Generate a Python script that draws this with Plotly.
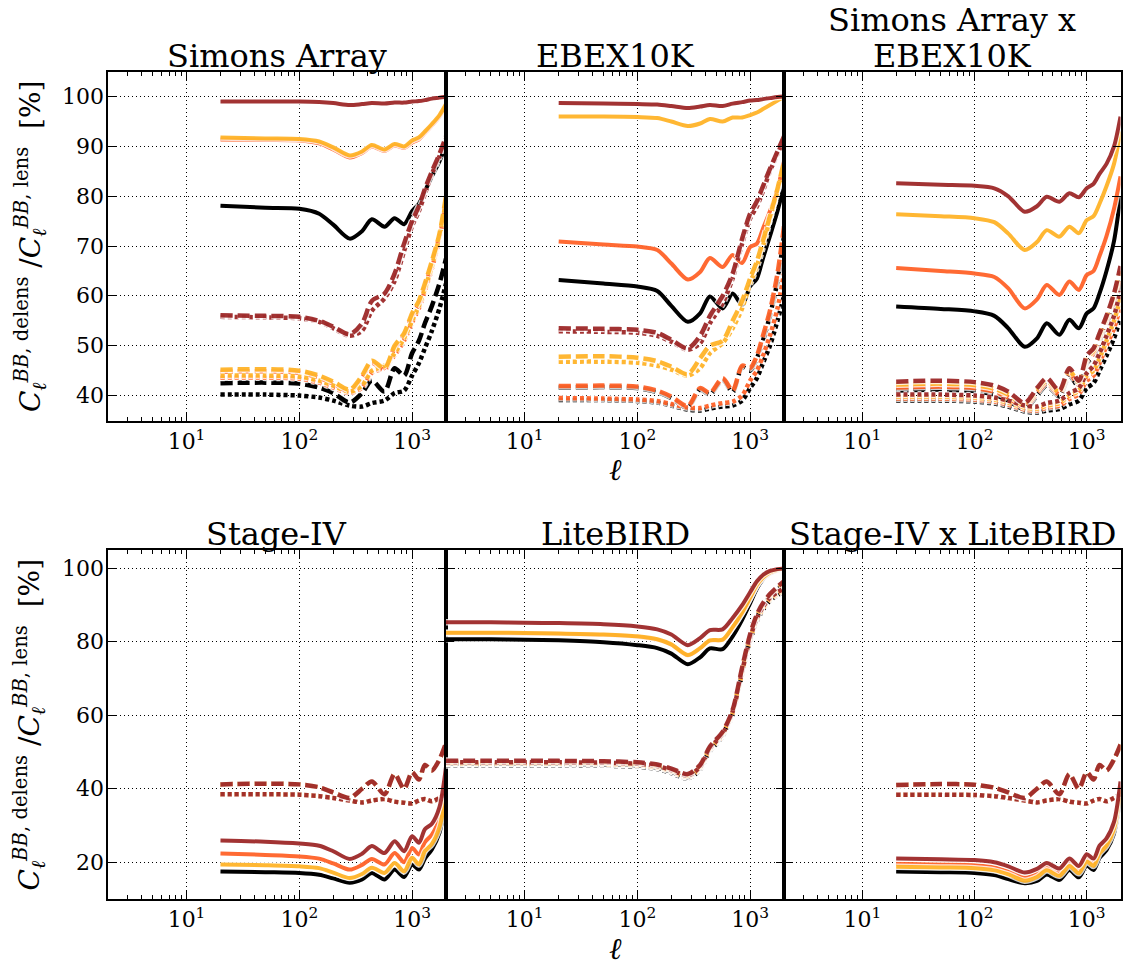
import math
import plotly.graph_objects as go

# ---------------- data ----------------
ELL = [20, 50, 100, 150, 200, 280, 360, 440, 570, 700, 850, 1000, 1150, 1300, 1500, 1750, 2000]
ELL_LB = [2, 5, 10, 20, 50, 100, 150, 200, 280, 360, 440, 570, 700, 850, 1000, 1150, 1300, 1500, 1750, 2000]

X_TICKS = [10, 100, 1000]
X_TICKTEXT = ["10<sup>1</sup>", "10<sup>2</sup>", "10<sup>3</sup>"]
Y_TICKS_TOP = [40, 50, 60, 70, 80, 90, 100]
Y_TICKS_BOT = [20, 40, 60, 80, 100]
TITLES = [["Simons Array"], ["EBEX10K"], ["Simons Array x", "EBEX10K"],
          ["Stage-IV"], ["LiteBIRD"], ["Stage-IV x LiteBIRD"]]

# Simons Array
SA_brown_solid = [99.0, 99.0, 99.0, 98.9, 98.7, 98.3, 98.5, 98.7, 98.6, 98.8, 98.8, 99.0, 99.1, 99.3, 99.6, 99.8, 100.0]
SA_orange_solid = [91.8, 91.6, 91.5, 91.0, 89.8, 88.2, 89.0, 90.3, 89.4, 90.5, 90.0, 91.2, 91.8, 93.0, 94.5, 96.3, 98.5]
SA_orangered_solid = [91.4, 91.3, 91.2, 90.6, 89.4, 87.8, 88.7, 90.0, 89.1, 90.2, 89.7, 90.8, 91.4, 92.7, 94.2, 96.0, 98.2]
SA_black_solid = [78.1, 77.7, 77.5, 76.5, 74.3, 71.5, 73.0, 75.4, 73.9, 75.6, 74.4, 77.0, 78.5, 81.0, 84.0, 87.0, 90.5]
SA_brown_dashed = [56.1, 56.0, 55.8, 55.0, 53.8, 52.3, 54.5, 59.0, 60.5, 64.5, 70.5, 75.0, 78.0, 81.5, 85.0, 88.5, 92.0]
SA_brown_dotted = [55.8, 55.7, 55.5, 54.8, 53.5, 52.0, 53.0, 57.0, 59.5, 63.0, 69.0, 74.0, 77.0, 80.5, 84.5, 88.0, 91.5]
SA_orange_dashed = [45.2, 45.3, 45.0, 44.0, 42.8, 41.2, 44.0, 47.0, 45.5, 50.0, 52.5, 56.5, 59.0, 62.5, 67.0, 72.5, 80.0]
SA_orange_dotted = [44.0, 44.0, 43.8, 43.0, 42.0, 40.8, 42.0, 45.0, 46.0, 48.5, 51.5, 55.0, 58.0, 61.5, 66.0, 72.0, 79.0]
SA_orangered_dashed = [44.8, 44.9, 44.6, 43.6, 42.4, 40.9, 43.6, 46.6, 45.1, 49.6, 52.1, 56.0, 58.5, 62.0, 66.5, 72.0, 79.5]
SA_orangered_dotted = [43.6, 43.6, 43.4, 42.6, 41.6, 40.5, 41.6, 44.6, 45.6, 48.1, 51.0, 54.6, 57.5, 61.0, 65.5, 71.5, 78.5]
SA_black_dashed = [42.5, 42.6, 42.4, 41.6, 40.5, 38.6, 40.5, 43.0, 40.8, 45.5, 44.0, 48.5, 51.0, 54.5, 58.0, 62.5, 67.5]
SA_black_dotted = [40.2, 40.2, 40.0, 39.6, 39.0, 38.0, 37.8, 38.5, 39.0, 40.5, 41.0, 44.0, 46.5, 49.5, 53.0, 57.5, 62.5]

# EBEX10K
EB_brown_solid = [98.7, 98.6, 98.5, 98.4, 98.1, 97.7, 98.0, 98.3, 98.1, 98.6, 98.9, 99.2, 99.3, 99.5, 99.7, 99.9, 100.0]
EB_orange_solid = [96.0, 96.0, 95.9, 95.7, 95.0, 94.1, 94.6, 95.5, 95.0, 95.8, 95.8, 96.3, 96.8, 97.5, 98.3, 99.2, 100.0]
EB_orangered_solid = [70.9, 70.3, 69.9, 69.2, 66.5, 63.3, 64.8, 67.6, 65.8, 68.2, 66.6, 69.8, 70.5, 73.5, 77.0, 81.5, 87.0]
EB_black_solid = [63.2, 62.5, 61.9, 61.0, 58.0, 54.8, 56.5, 59.9, 57.5, 60.5, 58.2, 61.9, 63.5, 67.5, 72.0, 77.0, 82.0]
EB_brown_dashed = [53.5, 53.4, 53.2, 52.6, 51.2, 49.5, 52.0, 56.0, 60.0, 64.5, 71.5, 76.5, 79.0, 82.0, 85.5, 89.0, 92.0]
EB_brown_dotted = [52.9, 52.8, 52.6, 52.0, 50.8, 49.2, 50.5, 54.5, 58.5, 63.5, 70.5, 75.5, 78.0, 81.0, 85.0, 88.5, 91.5]
EB_orange_dashed = [47.8, 47.9, 47.6, 46.9, 45.8, 44.3, 47.5, 50.0, 51.0, 55.0, 59.0, 63.5, 67.0, 71.0, 76.0, 81.5, 87.0]
EB_orange_dotted = [46.8, 46.8, 46.6, 46.0, 45.2, 44.0, 45.5, 48.5, 50.5, 53.5, 57.5, 62.5, 66.0, 70.0, 75.5, 81.0, 86.5]
EB_orangered_dashed = [41.9, 42.0, 41.8, 41.0, 39.8, 37.9, 41.5, 40.5, 43.5, 41.0, 46.0, 45.5, 48.0, 52.0, 57.0, 64.5, 74.0]
EB_orangered_dotted = [39.5, 39.4, 39.2, 38.9, 38.3, 37.6, 37.5, 38.0, 38.5, 38.8, 40.0, 43.0, 45.0, 48.0, 52.0, 57.5, 64.5]
EB_black_dashed = [41.6, 41.7, 41.5, 40.7, 39.5, 37.6, 41.2, 40.2, 43.2, 40.7, 45.7, 45.0, 47.5, 51.0, 56.0, 63.0, 72.0]
EB_black_dotted = [39.1, 39.1, 38.9, 38.6, 38.0, 37.2, 37.0, 37.4, 37.8, 38.0, 39.0, 41.5, 43.5, 46.5, 50.0, 55.0, 60.0]

# Simons Array x EBEX10K
SE_brown_solid = [82.6, 82.3, 82.1, 81.6, 80.0, 76.9, 78.0, 79.9, 78.9, 80.6, 79.8, 81.6, 82.5, 84.5, 86.5, 90.0, 96.0]
SE_orange_solid = [76.4, 76.0, 75.6, 74.8, 72.5, 69.2, 70.8, 73.2, 71.9, 73.9, 72.6, 75.2, 76.0, 78.5, 82.0, 86.5, 93.0]
SE_orangered_solid = [65.6, 65.0, 64.5, 63.8, 61.5, 57.5, 59.3, 62.2, 60.2, 62.9, 61.2, 64.2, 65.0, 68.0, 72.0, 77.5, 84.0]
SE_black_solid = [57.9, 57.4, 56.9, 56.0, 53.5, 49.8, 51.5, 54.5, 52.2, 55.2, 53.5, 56.5, 57.5, 60.5, 65.0, 71.0, 80.0]
SE_brown_dashed = [42.8, 43.0, 42.7, 42.0, 40.8, 38.5, 41.5, 43.5, 41.0, 45.5, 43.0, 48.0, 49.5, 52.5, 56.0, 60.5, 66.0]
SE_orange_dashed = [42.2, 42.4, 42.1, 41.4, 40.2, 38.1, 41.0, 43.0, 40.6, 45.0, 42.6, 47.5, 49.0, 52.0, 55.5, 60.0, 65.0]
SE_orangered_dashed = [41.6, 41.8, 41.5, 40.8, 39.6, 37.7, 40.5, 42.5, 40.2, 44.5, 42.2, 47.0, 48.5, 51.5, 55.0, 59.0, 64.0]
SE_black_dashed = [41.0, 41.2, 40.9, 40.2, 39.0, 37.3, 40.0, 42.0, 39.8, 44.0, 41.8, 46.5, 48.0, 51.0, 54.5, 58.0, 63.0]
SE_brown_dotted = [40.2, 40.2, 40.0, 39.6, 39.0, 38.0, 37.8, 38.5, 39.0, 40.5, 41.5, 44.5, 46.0, 48.5, 52.0, 56.0, 61.0]
SE_orange_dotted = [39.8, 39.8, 39.6, 39.2, 38.6, 37.6, 37.4, 38.0, 38.5, 40.0, 41.0, 44.0, 45.0, 47.5, 51.0, 55.0, 59.5]
SE_orangered_dotted = [39.4, 39.4, 39.2, 38.8, 38.2, 37.2, 37.0, 37.6, 38.0, 39.3, 40.3, 43.0, 44.0, 46.5, 50.0, 53.5, 58.0]
SE_black_dotted = [39.0, 39.0, 38.8, 38.4, 37.8, 36.8, 36.6, 37.0, 37.3, 38.2, 39.0, 41.5, 42.5, 45.0, 48.0, 51.5, 55.5]

# Stage-IV
S4_brown_solid = [25.9, 25.6, 25.1, 24.5, 23.0, 20.9, 22.3, 24.4, 22.5, 25.7, 23.0, 27.1, 25.3, 29.0, 30.5, 35.0, 46.0]
S4_orangered_solid = [22.4, 22.0, 21.6, 21.0, 19.7, 18.0, 19.3, 20.9, 19.4, 22.5, 20.0, 23.9, 22.1, 25.5, 27.5, 32.0, 40.7]
S4_orange_solid = [19.4, 19.2, 18.9, 18.4, 17.2, 15.7, 16.8, 18.5, 17.1, 19.8, 17.5, 21.2, 19.4, 23.0, 25.0, 29.5, 38.9]
S4_black_solid = [17.5, 17.3, 17.1, 16.6, 15.6, 14.4, 15.3, 17.1, 15.3, 18.0, 16.0, 19.4, 18.0, 21.0, 23.5, 28.0, 37.1]
S4_dashed = [41.2, 41.4, 41.2, 40.4, 39.0, 37.5, 40.0, 42.0, 38.5, 44.0, 40.0, 44.5, 42.5, 46.5, 45.0, 48.0, 52.5]
S4_dotted = [38.5, 38.5, 38.4, 38.0, 37.5, 36.8, 36.3, 36.8, 37.2, 36.5, 36.2, 36.0, 36.8, 37.2, 36.6, 37.5, 38.9]

# LiteBIRD
LB_brown_solid = [85.3, 85.3, 85.2, 85.1, 84.8, 84.2, 83.4, 82.0, 79.1, 81.0, 83.2, 83.4, 86.5, 90.0, 93.5, 96.5, 98.2, 99.3, 99.8, 100.0]
LB_orange_solid = [82.5, 82.5, 82.4, 82.3, 82.0, 81.5, 80.7, 79.3, 76.4, 78.3, 80.4, 80.6, 84.0, 88.0, 92.0, 95.5, 97.5, 98.9, 99.6, 100.0]
LB_orangered_solid = [82.4, 82.4, 82.3, 82.2, 81.9, 81.4, 80.6, 79.2, 76.3, 78.2, 80.3, 80.5, 83.9, 87.9, 91.9, 95.4, 97.4, 98.8, 99.5, 99.9]
LB_black_solid = [80.7, 80.7, 80.6, 80.4, 79.9, 79.1, 78.3, 76.8, 73.9, 75.8, 78.2, 78.0, 81.5, 86.0, 90.5, 94.5, 97.0, 98.6, 99.4, 99.8]
LB_brown_dashed = [47.6, 47.6, 47.6, 47.6, 47.5, 47.2, 46.6, 45.5, 44.0, 46.5, 51.5, 55.5, 61.5, 73.0, 82.0, 87.5, 90.5, 93.0, 95.0, 96.5]
LB_brown_dotted = [47.2, 47.2, 47.2, 47.2, 47.1, 46.8, 46.2, 45.1, 43.6, 46.0, 51.0, 55.0, 61.0, 72.0, 81.0, 86.5, 89.5, 92.0, 93.5, 94.5]
LB_orange_dashed = [47.3, 47.3, 47.3, 47.3, 47.2, 46.9, 46.3, 45.2, 43.7, 46.2, 51.2, 55.2, 61.2, 72.6, 81.6, 87.1, 90.1, 92.6, 94.6, 96.1]
LB_orange_dotted = [46.9, 46.9, 46.9, 46.9, 46.8, 46.5, 45.9, 44.8, 43.3, 45.7, 50.7, 54.7, 60.7, 71.6, 80.6, 86.1, 89.1, 91.6, 93.1, 94.1]
LB_orangered_dashed = [47.2, 47.2, 47.2, 47.2, 47.1, 46.8, 46.2, 45.1, 43.6, 46.1, 51.1, 55.1, 61.1, 72.5, 81.5, 87.0, 90.0, 92.5, 94.5, 96.0]
LB_orangered_dotted = [46.8, 46.8, 46.8, 46.8, 46.7, 46.4, 45.8, 44.7, 43.2, 45.6, 50.6, 54.6, 60.6, 71.5, 80.5, 86.0, 89.0, 91.5, 93.0, 94.0]
LB_black_dashed = [46.8, 46.8, 46.8, 46.8, 46.7, 46.4, 45.8, 44.7, 43.2, 45.7, 50.7, 54.7, 60.7, 72.2, 81.2, 86.7, 89.7, 92.2, 94.2, 95.7]
LB_black_dotted = [46.4, 46.4, 46.4, 46.4, 46.3, 46.0, 45.4, 44.3, 42.8, 45.2, 50.2, 54.2, 60.2, 71.2, 80.2, 85.7, 88.7, 91.2, 92.7, 93.7]

# Stage-IV x LiteBIRD
SL_brown_solid = [21.0, 20.8, 20.6, 20.0, 18.9, 17.2, 18.2, 19.8, 18.3, 21.0, 19.0, 22.2, 21.0, 24.5, 26.5, 31.0, 42.0]
SL_orangered_solid = [19.6, 19.4, 19.2, 18.6, 17.5, 15.8, 16.8, 18.6, 17.1, 19.8, 17.8, 21.0, 19.8, 23.2, 25.3, 29.8, 40.5]
SL_orange_solid = [18.8, 18.6, 18.4, 17.8, 16.7, 15.0, 16.0, 17.8, 16.3, 19.0, 17.0, 20.2, 19.0, 22.4, 24.5, 29.0, 39.5]
SL_black_solid = [17.5, 17.3, 17.1, 16.5, 15.4, 14.3, 14.9, 16.7, 15.2, 17.9, 15.9, 19.1, 17.9, 21.2, 23.3, 27.8, 38.0]
SL_dashed = [41.0, 41.3, 41.1, 40.3, 39.0, 37.5, 40.0, 42.0, 38.5, 44.0, 40.0, 44.5, 42.5, 46.5, 45.0, 48.0, 52.0]
SL_dotted = [38.4, 38.4, 38.3, 38.0, 37.5, 36.8, 36.3, 36.8, 37.2, 36.5, 36.2, 36.0, 36.8, 37.2, 36.6, 37.5, 38.5]

# ---------------- styling ----------------
W, H = 1129, 973
FONT = "DejaVu Serif"
COL = {
    "black": "rgba(0,0,0,1)",
    "orangered": "rgba(255,69,0,0.8)",
    "orange": "rgba(255,165,0,0.8)",
    "brown": "rgba(139,0,0,0.8)",
}
STYLE = {
    "solid": ("solid", 4.0),
    "dashed": ("12px,5px", 4.5),
    "dotted": ("4px,3px", 4.5),
}
ORDER = ["black", "orangered", "orange", "brown"]

PANELS = [
    (ELL, {"black": {"dotted": SA_black_dotted, "dashed": SA_black_dashed, "solid": SA_black_solid},
           "orangered": {"dotted": SA_orangered_dotted, "dashed": SA_orangered_dashed, "solid": SA_orangered_solid},
           "orange": {"dotted": SA_orange_dotted, "dashed": SA_orange_dashed, "solid": SA_orange_solid},
           "brown": {"dotted": SA_brown_dotted, "dashed": SA_brown_dashed, "solid": SA_brown_solid}}),
    (ELL, {"black": {"dotted": EB_black_dotted, "dashed": EB_black_dashed, "solid": EB_black_solid},
           "orangered": {"dotted": EB_orangered_dotted, "dashed": EB_orangered_dashed, "solid": EB_orangered_solid},
           "orange": {"dotted": EB_orange_dotted, "dashed": EB_orange_dashed, "solid": EB_orange_solid},
           "brown": {"dotted": EB_brown_dotted, "dashed": EB_brown_dashed, "solid": EB_brown_solid}}),
    (ELL, {"black": {"dotted": SE_black_dotted, "dashed": SE_black_dashed, "solid": SE_black_solid},
           "orangered": {"dotted": SE_orangered_dotted, "dashed": SE_orangered_dashed, "solid": SE_orangered_solid},
           "orange": {"dotted": SE_orange_dotted, "dashed": SE_orange_dashed, "solid": SE_orange_solid},
           "brown": {"dotted": SE_brown_dotted, "dashed": SE_brown_dashed, "solid": SE_brown_solid}}),
    (ELL, {"black": {"dotted": S4_dotted, "dashed": S4_dashed, "solid": S4_black_solid},
           "orangered": {"dotted": S4_dotted, "dashed": S4_dashed, "solid": S4_orangered_solid},
           "orange": {"dotted": S4_dotted, "dashed": S4_dashed, "solid": S4_orange_solid},
           "brown": {"dotted": S4_dotted, "dashed": S4_dashed, "solid": S4_brown_solid}}),
    (ELL_LB, {"black": {"dotted": LB_black_dotted, "dashed": LB_black_dashed, "solid": LB_black_solid},
              "orangered": {"dotted": LB_orangered_dotted, "dashed": LB_orangered_dashed, "solid": LB_orangered_solid},
              "orange": {"dotted": LB_orange_dotted, "dashed": LB_orange_dashed, "solid": LB_orange_solid},
              "brown": {"dotted": LB_brown_dotted, "dashed": LB_brown_dashed, "solid": LB_brown_solid}}),
    (ELL, {"black": {"dotted": SL_dotted, "dashed": SL_dashed, "solid": SL_black_solid},
           "orangered": {"dotted": SL_dotted, "dashed": SL_dashed, "solid": SL_orangered_solid},
           "orange": {"dotted": SL_dotted, "dashed": SL_dashed, "solid": SL_orange_solid},
           "brown": {"dotted": SL_dotted, "dashed": SL_dashed, "solid": SL_brown_solid}}),
]

fig = go.Figure()

for i, (ell, lines) in enumerate(PANELS, start=1):
    xa = "x" if i == 1 else f"x{i}"
    ya = "y" if i == 1 else f"y{i}"
    for c in ORDER:
        for s in ["dotted", "dashed", "solid"]:
            y = lines[c][s]
            dash, w = STYLE[s]
            fig.add_trace(go.Scatter(x=ell, y=y, mode="lines", xaxis=xa, yaxis=ya,
                                     line=dict(color="rgba(255,255,255,0.8)", width=w + 2.5, dash=dash,
                                               shape="spline", smoothing=0.8),
                                     hoverinfo="skip", showlegend=False))
            fig.add_trace(go.Scatter(x=ell, y=y, mode="lines", xaxis=xa, yaxis=ya,
                                     line=dict(color=COL[c], width=w, dash=dash,
                                               shape="spline", smoothing=0.8),
                                     hoverinfo="skip", showlegend=False))

# ---------------- layout ----------------
X_EDGES = [107.7, 446.0, 784.0, 1120.5]
ROW_Y = [(71.7, 420.5), (550.0, 899.0)]
MINOR = [2, 3, 4, 5, 6, 7, 8, 9, 20, 30, 40, 50, 60, 70, 80, 90, 200, 300, 400, 500, 600, 700, 800, 900]
TITLE_SIZE = 32

layout = dict(width=W, height=H, margin=dict(l=0, r=0, t=0, b=0),
              paper_bgcolor="white", plot_bgcolor="white", showlegend=False,
              font=dict(family=FONT, color="black"))
annotations = []
for i in range(1, 7):
    row = 0 if i <= 3 else 1
    col = (i - 1) % 3
    top, bot = ROW_Y[row]
    xd = [X_EDGES[col] / W, X_EDGES[col + 1] / W]
    yd = [(H - bot) / H, (H - top) / H]
    ykey = "yaxis" if i == 1 else f"yaxis{i}"
    xkey = "xaxis" if i == 1 else f"xaxis{i}"
    yticks = Y_TICKS_TOP if row == 0 else Y_TICKS_BOT
    layout[xkey] = dict(
        type="log", range=[math.log10(2), math.log10(2000)], domain=xd,
        anchor="y" if i == 1 else f"y{i}",
        showline=True, linecolor="black", linewidth=2, mirror="allticks",
        ticks="inside", ticklen=8, tickwidth=1, tickcolor="black",
        tickmode="array", tickvals=X_TICKS, ticktext=X_TICKTEXT,
        tickfont=dict(family=FONT, size=22, color="black"),
        showgrid=True, gridcolor="black", gridwidth=1, griddash="1px,3px",
        zeroline=False,
        minor=dict(ticks="inside", ticklen=4, tickwidth=1, tickcolor="black",
                   tickmode="array", tickvals=MINOR, showgrid=False),
    )
    layout[ykey] = dict(
        range=[35, 105] if row == 0 else [10, 105], domain=yd,
        anchor="x" if i == 1 else f"x{i}",
        showline=True, linecolor="black", linewidth=2, mirror="allticks",
        ticks="inside", ticklen=8, tickwidth=1, tickcolor="black",
        tickmode="array", tickvals=yticks,
        showticklabels=False,
        showgrid=True, gridcolor="black", gridwidth=1, griddash="1px,3px",
        zeroline=False,
    )
    # y tick labels placed tight against the left spine (value-positioned via the axis)
    if col == 0:
        yref = "y" if i == 1 else f"y{i}"
        for v in yticks:
            annotations.append(dict(text=str(v), x=(X_EDGES[0] - 2) / W, y=v, xref="paper", yref=yref,
                                    xanchor="right", yanchor="middle", showarrow=False,
                                    font=dict(family=FONT, size=22, color="black")))
    # panel titles (one annotation per text line)
    cx = (X_EDGES[col] + X_EDGES[col + 1]) / 2 / W
    lines_t = TITLES[i - 1]
    for k, txt in enumerate(lines_t):
        shift = (len(lines_t) - 1 - k) * 36
        annotations.append(dict(text=txt, x=cx, y=(H - (top + 4 - shift)) / H, xref="paper", yref="paper",
                                xanchor="center", yanchor="bottom", showarrow=False, borderpad=0,
                                font=dict(family=FONT, size=TITLE_SIZE, color="black")))

ylab = ("<i>C</i><sub><i>ℓ</i></sub><sup><i>BB</i>, delens</sup>"
        " /<i>C</i><sub><i>ℓ</i></sub><sup><i>BB</i>, lens</sup>  [%]")
for top, bot in ROW_Y:
    annotations.append(dict(text=ylab, x=30 / W, y=(H - (top + bot) / 2) / H, xref="paper", yref="paper",
                            xanchor="center", yanchor="middle", textangle=-90, showarrow=False,
                            font=dict(family=FONT, size=28, color="black")))
    annotations.append(dict(text="<i>ℓ</i>", x=(X_EDGES[1] + X_EDGES[2]) / 2 / W, y=(H - (bot + 49)) / H,
                            xref="paper", yref="paper", xanchor="center", yanchor="middle",
                            showarrow=False, font=dict(family=FONT, size=30, color="black")))
layout["annotations"] = annotations
fig.update_layout(**layout)
fig.write_html("out.html")
